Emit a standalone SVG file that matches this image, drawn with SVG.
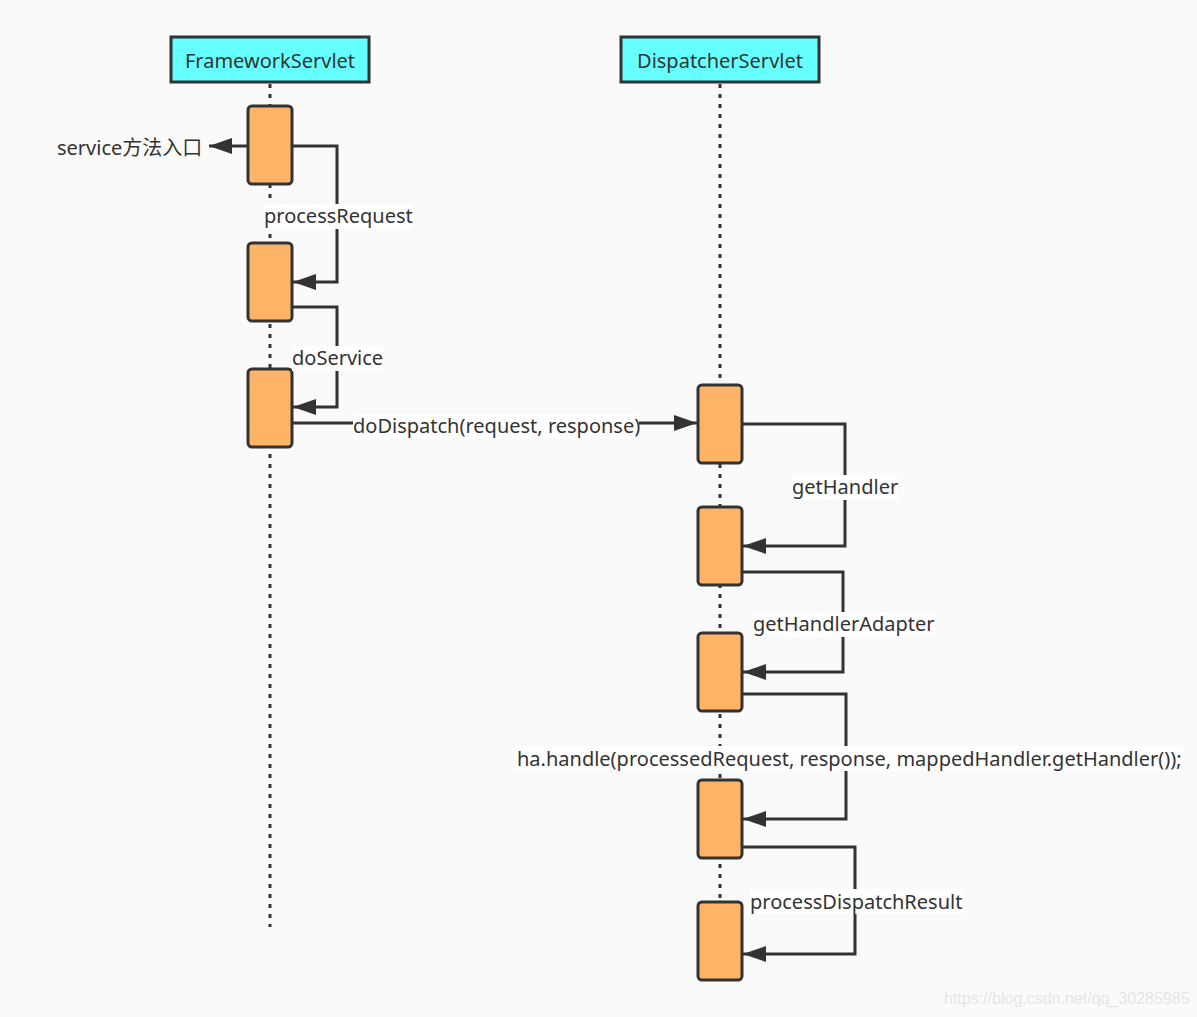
<svg xmlns="http://www.w3.org/2000/svg" width="1197" height="1017" viewBox="0 0 1197 1017">
<style>
.hdr{fill:#66FFFF;stroke:#333;stroke-width:3}
.act{fill:#FFB366;stroke:#333;stroke-width:3}
.life{stroke:#333;stroke-width:3;stroke-dasharray:4 6;fill:none}
.conn{stroke:#333;stroke-width:3;fill:none;marker-end:url(#arr)}
.t{font-family:"Noto Sans","Noto Sans CJK SC",sans-serif;font-size:20px;fill:#333}
.lbg{fill:#fff}
</style>
<defs>
<marker id="arr" markerUnits="userSpaceOnUse" markerWidth="24" markerHeight="18" refX="23" refY="9" orient="auto">
<path d="M0,1 L23,9 L0,17 z" fill="#333"/>
</marker>
</defs>
<rect width="1197" height="1017" fill="#FAFAFA"/>
<g id="lifelines">
<line class="life" x1="270" y1="84" x2="270" y2="927"/>
<line class="life" x1="720" y1="84" x2="720" y2="905"/>
</g>
<g id="FrameworkServlet">
<rect class="hdr" x="171" y="37" width="198" height="45"/>
<text class="t" x="270" y="68" text-anchor="middle">FrameworkServlet</text>
</g>
<g id="DispatcherServlet">
<rect class="hdr" x="621" y="37" width="198" height="45"/>
<text class="t" x="720" y="68" text-anchor="middle">DispatcherServlet</text>
</g>
<g id="fs-act1"><rect class="act" x="248" y="106" width="44" height="78" rx="4"/></g>
<g id="fs-act2"><rect class="act" x="248" y="243" width="44" height="78" rx="4"/></g>
<g id="fs-act3"><rect class="act" x="248" y="369" width="44" height="78" rx="4"/></g>
<g id="ds-act1"><rect class="act" x="698" y="385" width="44" height="78" rx="4"/></g>
<g id="ds-act2"><rect class="act" x="698" y="507" width="44" height="78" rx="4"/></g>
<g id="ds-act3"><rect class="act" x="698" y="633" width="44" height="78" rx="4"/></g>
<g id="ds-act4"><rect class="act" x="698" y="780" width="44" height="78" rx="4"/></g>
<g id="ds-act5"><rect class="act" x="698" y="902" width="44" height="78" rx="4"/></g>
<g id="connectors">
<path class="conn" d="M248,146 H209"/>
<path class="conn" d="M292,146 H337 V282 H293"/>
<path class="conn" d="M292,307 H337 V407 H293"/>
<path class="conn" d="M292,423 H697"/>
<path class="conn" d="M742,424 H845 V546 H743"/>
<path class="conn" d="M742,572 H843 V672 H743"/>
<path class="conn" d="M742,694 H846 V819 H743"/>
<path class="conn" d="M742,847 H855 V954 H743"/>
</g>
<g id="labels">
<text class="t" x="57" y="155">service方法入口</text>
<rect class="lbg" x="264" y="204" width="149" height="25"/>
<text class="t" x="264" y="223">processRequest</text>
<rect class="lbg" x="292" y="346" width="91" height="25"/>
<text class="t" x="292" y="365">doService</text>
<rect class="lbg" x="353" y="414" width="286" height="25"/>
<text class="t" x="353" y="433">doDispatch(request, response)</text>
<rect class="lbg" x="792" y="475" width="105" height="25"/>
<text class="t" x="792" y="494">getHandler</text>
<rect class="lbg" x="753" y="612" width="182" height="25"/>
<text class="t" x="753" y="631">getHandlerAdapter</text>
<rect class="lbg" x="515" y="746" width="668" height="25"/>
<text class="t" x="517" y="766">ha.handle(processedRequest, response, mappedHandler.getHandler());</text>
<rect class="lbg" x="750" y="889" width="213" height="25"/>
<text class="t" x="750" y="909">processDispatchResult</text>
<text x="944" y="1004" style="font-family:'Liberation Sans',sans-serif;font-size:16px;fill:#e6e6e6">https://blog.csdn.net/qq_30285985</text>
</g>
</svg>
